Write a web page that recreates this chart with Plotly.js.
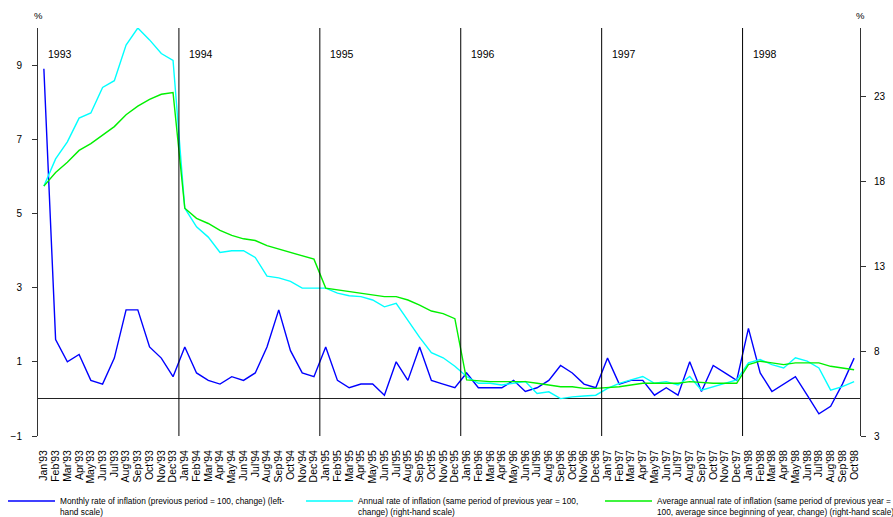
<!DOCTYPE html>
<html>
<head>
<meta charset="utf-8">
<script src="https://cdn.plot.ly/plotly-3.0.1.min.js"></script>
<style>html,body{margin:0;padding:0;background:#fff;}#chart{width:893px;height:517px;}</style>
</head>
<body>
<div id="chart"></div>
<script>
const months = ["Jan'93","Feb'93","Mar'93","Apr'93","May'93","Jun'93","Jul'93","Aug'93","Sep'93","Oct'93","Nov'93","Dec'93",
"Jan'94","Feb'94","Mar'94","Apr'94","May'94","Jun'94","Jul'94","Aug'94","Sep'94","Oct'94","Nov'94","Dec'94",
"Jan'95","Feb'95","Mar'95","Apr'95","May'95","Jun'95","Jul'95","Aug'95","Sep'95","Oct'95","Nov'95","Dec'95",
"Jan'96","Feb'96","Mar'96","Apr'96","May'96","Jun'96","Jul'96","Aug'96","Sep'96","Oct'96","Nov'96","Dec'96",
"Jan'97","Feb'97","Mar'97","Apr'97","May'97","Jun'97","Jul'97","Aug'97","Sep'97","Oct'97","Nov'97","Dec'97",
"Jan'98","Feb'98","Mar'98","Apr'98","May'98","Jun'98","Jul'98","Aug'98","Sep'98","Oct'98"];

// Monthly rate of inflation (left-hand scale)
const monthlyRate = [8.9,1.6,1.0,1.2,0.5,0.4,1.1,2.4,2.4,1.4,1.1,0.6,
1.4,0.7,0.5,0.4,0.6,0.5,0.7,1.4,2.4,1.3,0.7,0.6,
1.4,0.5,0.3,0.4,0.4,0.1,1.0,0.5,1.4,0.5,0.4,0.3,
0.7,0.3,0.3,0.3,0.5,0.2,0.3,0.5,0.9,0.7,0.4,0.3,
1.1,0.4,0.5,0.5,0.1,0.3,0.1,1.0,0.2,0.9,0.7,0.5,
1.9,0.7,0.2,0.4,0.6,0.1,-0.4,-0.2,0.4,1.1];

// Annual rate of inflation (right-hand scale)
const annualRate = [17.7,19.3,20.3,21.7,22.0,23.5,23.9,26.0,27.0,26.3,25.5,25.1,
16.4,15.3,14.7,13.8,13.9,13.9,13.5,12.4,12.3,12.1,11.7,11.7,
11.7,11.4,11.25,11.2,11.0,10.6,10.8,9.8,8.8,7.9,7.6,7.1,
6.5,6.1,6.1,6.0,6.1,6.2,5.5,5.6,5.2,5.3,5.35,5.4,
5.8,6.1,6.3,6.5,6.1,6.2,6.0,6.5,5.7,5.9,6.1,6.3,
7.3,7.5,7.2,7.0,7.6,7.4,7.0,5.7,5.9,6.2];

// Average annual rate of inflation (right-hand scale)
const avgAnnualRate = [17.7,18.5,19.1,19.8,20.2,20.7,21.2,21.9,22.4,22.8,23.1,23.2,
16.4,15.8,15.5,15.1,14.8,14.6,14.5,14.2,14.0,13.8,13.6,13.4,
11.7,11.6,11.5,11.4,11.3,11.2,11.2,11.0,10.7,10.35,10.2,9.9,
6.3,6.25,6.2,6.2,6.2,6.2,6.1,6.0,5.9,5.9,5.8,5.8,
5.85,5.9,6.0,6.1,6.1,6.1,6.1,6.2,6.15,6.1,6.1,6.1,
7.2,7.4,7.3,7.2,7.3,7.3,7.3,7.1,7.0,6.9];

const seriesNames = [
  "Monthly rate of inflation (previous period = 100, change) (left-<br>hand scale)",
  "Annual rate of inflation (same period of previous year = 100,<br>change) (right-hand scale)",
  "Average annual rate of inflation (same period of previous year =<br>100, average since beginning of year, change) (right-hand scale)"
];
const leftTicks = [-1,1,3,5,7,9];
const rightTicks = [3,8,13,18,23];

const FONT = "Arial, 'Liberation Sans', sans-serif";
const idx = months.map((m,i)=>i);

const traces = [
  {x: idx, y: monthlyRate, type:'scatter', mode:'lines', name: seriesNames[0], yaxis:'y', legend:'legend', line:{color:'#0000ff', width:1.4}},
  {x: idx, y: annualRate, type:'scatter', mode:'lines', name: seriesNames[1], yaxis:'y2', legend:'legend2', line:{color:'#00ffff', width:1.4}},
  {x: idx, y: avgAnnualRate, type:'scatter', mode:'lines', name: seriesNames[2], yaxis:'y2', legend:'legend3', line:{color:'#00f000', width:1.4}}
];

// year boundaries derived from month labels
const yearStarts = [];
months.forEach((m,i)=>{ if(m.startsWith("Jan")) yearStarts.push(i); });
const shapes = yearStarts.filter(i=>i>0).map(i=>({
  type:'line', xref:'x', yref:'paper', x0:i-0.5, x1:i-0.5, y0:0, y1:1,
  line:{color:'#000', width:1}
}));
const annotations = yearStarts.map(i=>({
  xref:'x', yref:'paper', x:i-0.5, y:0.937, xanchor:'left', yanchor:'middle', xshift:8,
  text:'19'+months[i].slice(-2), showarrow:false, font:{family:FONT, size:10.5, color:'#000'}
}));
annotations.push({xref:'paper', yref:'paper', x:0.0, y:1.03, xanchor:'center', yanchor:'middle', text:'%', showarrow:false, font:{family:FONT, size:9.5, color:'#000'}});
annotations.push({xref:'paper', yref:'paper', x:1.0, y:1.03, xanchor:'center', yanchor:'middle', text:'%', showarrow:false, font:{family:FONT, size:9.5, color:'#000'}});

function leg(px){
  return {orientation:'h', xref:'container', yref:'container', x:px/893, y:0.054, xanchor:'left', yanchor:'top',
    itemwidth:47, valign:'top', font:{family:FONT, size:8.3, color:'#000'}, bgcolor:'rgba(0,0,0,0)', borderwidth:0};
}

const layout = {
  width:893, height:517,
  margin:{l:38, r:33, t:28, b:81, autoexpand:false},
  paper_bgcolor:'#fff', plot_bgcolor:'#fff',
  font:{family:FONT, size:10, color:'#000'},
  showlegend:true,
  xaxis:{type:'linear', range:[-0.5, 69.5], tickmode:'array', tickvals:idx, ticktext:months,
    tickangle:-90, showgrid:false, zeroline:false, showline:false, ticks:'', ticklabelstandoff:11,
    tickfont:{family:FONT, size:10.5, color:'#000'}},
  yaxis:{range:[-1,10], tickmode:'array', tickvals:leftTicks, showgrid:false,
    zeroline:true, zerolinecolor:'#222', zerolinewidth:1,
    showline:true, linecolor:'#333', linewidth:1, ticks:'outside', ticklen:5, tickcolor:'#333',
    ticklabelstandoff:8, tickfont:{family:FONT, size:10, color:'#000'}},
  yaxis2:{range:[3,27], overlaying:'y', side:'right', tickmode:'array', tickvals:rightTicks,
    showgrid:false, zeroline:false, showline:true, linecolor:'#333', linewidth:1,
    ticks:'outside', ticklen:5, tickcolor:'#333', ticklabelstandoff:6,
    tickfont:{family:FONT, size:10, color:'#000'}},
  yaxis3:{range:[-1,10], overlaying:'y', side:'left', tickmode:'array', tickvals:leftTicks,
    showgrid:false, zeroline:false, showline:false, ticks:'inside', ticklen:5, tickcolor:'#333', showticklabels:false},
  yaxis4:{range:[3,27], overlaying:'y', side:'right', tickmode:'array', tickvals:rightTicks,
    showgrid:false, zeroline:false, showline:false, ticks:'inside', ticklen:5, tickcolor:'#333', showticklabels:false},
  legend: leg(3),
  legend2: leg(301),
  legend3: leg(600),
  shapes: shapes,
  annotations: annotations
};

Plotly.newPlot('chart', traces, layout, {displayModeBar:false, staticPlot:true});
</script>
</body>
</html>
